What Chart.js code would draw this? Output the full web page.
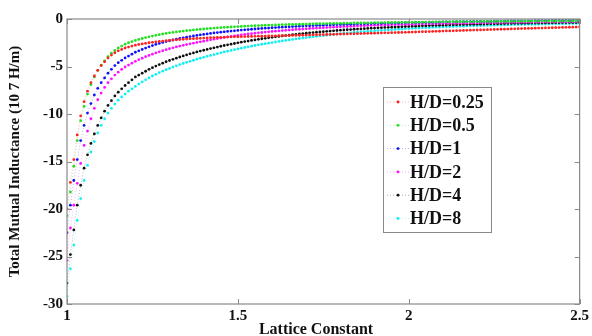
<!DOCTYPE html>
<html>
<head>
<meta charset="utf-8">
<script src="https://cdn.jsdelivr.net/npm/chart.js@4.4.1/dist/chart.umd.min.js"></script>
<style>
  html, body { margin: 0; padding: 0; background: #fff; }
  #wrap { width: 592px; height: 336px; position: relative; }
</style>
</head>
<body>
<div id="wrap"><canvas id="chart-mutuelle"></canvas></div>
<script>
/* ── Abscisses : constante de réseau ───────────────────────── */
const LATTICE = [
  1.00, 1.01, 1.02, 1.03, 1.04, 1.05, 1.06, 1.07, 1.08, 1.09,
  1.10, 1.11, 1.12, 1.13, 1.14, 1.15, 1.16, 1.17, 1.18, 1.19,
  1.20, 1.21, 1.22, 1.23, 1.24, 1.25, 1.26, 1.27, 1.28, 1.29,
  1.30, 1.31, 1.32, 1.33, 1.34, 1.35, 1.36, 1.37, 1.38, 1.39,
  1.40, 1.41, 1.42, 1.43, 1.44, 1.45, 1.46, 1.47, 1.48, 1.49,
  1.50, 1.51, 1.52, 1.53, 1.54, 1.55, 1.56, 1.57, 1.58, 1.59,
  1.60, 1.61, 1.62, 1.63, 1.64, 1.65, 1.66, 1.67, 1.68, 1.69,
  1.70, 1.71, 1.72, 1.73, 1.74, 1.75, 1.76, 1.77, 1.78, 1.79,
  1.80, 1.81, 1.82, 1.83, 1.84, 1.85, 1.86, 1.87, 1.88, 1.89,
  1.90, 1.91, 1.92, 1.93, 1.94, 1.95, 1.96, 1.97, 1.98, 1.99,
  2.00, 2.01, 2.02, 2.03, 2.04, 2.05, 2.06, 2.07, 2.08, 2.09,
  2.10, 2.11, 2.12, 2.13, 2.14, 2.15, 2.16, 2.17, 2.18, 2.19,
  2.20, 2.21, 2.22, 2.23, 2.24, 2.25, 2.26, 2.27, 2.28, 2.29,
  2.30, 2.31, 2.32, 2.33, 2.34, 2.35, 2.36, 2.37, 2.38, 2.39,
  2.40, 2.41, 2.42, 2.43, 2.44, 2.45, 2.46, 2.47, 2.48, 2.49,
  2.50,
];

/* ── Séries (10^-7 H/m), une par rapport H/D ───────────────── */
const HD_025 = [
  -20.0, -17.2, -14.8, -12.2, -10.2, -8.7, -7.6, -6.7, -6.0, -5.4,
  -4.9, -4.5, -4.1, -3.8, -3.55, -3.35, -3.2, -3.05, -2.95, -2.85,
  -2.75, -2.68, -2.62, -2.56, -2.5, -2.45, -2.4, -2.36, -2.32, -2.28,
  -2.25, -2.22, -2.19, -2.16, -2.13, -2.11, -2.09, -2.07, -2.05, -2.03,
  -2.01, -1.99, -1.97, -1.96, -1.94, -1.93, -1.91, -1.9, -1.89, -1.88,
  -1.87, -1.86, -1.85, -1.84, -1.83, -1.82, -1.81, -1.81, -1.8, -1.79,
  -1.78, -1.77, -1.76, -1.75, -1.75, -1.74, -1.73, -1.72, -1.71, -1.7,
  -1.69, -1.68, -1.67, -1.66, -1.65, -1.64, -1.63, -1.62, -1.61, -1.6,
  -1.59, -1.58, -1.57, -1.56, -1.55, -1.54, -1.53, -1.52, -1.51, -1.5,
  -1.49, -1.48, -1.47, -1.46, -1.45, -1.44, -1.43, -1.42, -1.41, -1.4,
  -1.39, -1.38, -1.37, -1.35, -1.34, -1.33, -1.32, -1.31, -1.3, -1.29,
  -1.27, -1.26, -1.25, -1.24, -1.23, -1.22, -1.2, -1.19, -1.18, -1.17,
  -1.16, -1.15, -1.14, -1.12, -1.11, -1.1, -1.09, -1.08, -1.07, -1.06,
  -1.04, -1.03, -1.02, -1.01, -1.0, -0.99, -0.98, -0.97, -0.96, -0.95,
  -0.94, -0.93, -0.92, -0.91, -0.9, -0.89, -0.88, -0.87, -0.86, -0.85,
  -0.84,
];
const HD_05 = [
  -20.7, -18.2, -15.5, -12.8, -10.7, -9.2, -7.9, -6.9, -6.1, -5.4,
  -4.85, -4.4, -3.95, -3.6, -3.3, -3.05, -2.85, -2.65, -2.5, -2.38,
  -2.26, -2.15, -2.05, -1.96, -1.88, -1.8, -1.72, -1.65, -1.58, -1.52,
  -1.46, -1.41, -1.36, -1.31, -1.27, -1.23, -1.19, -1.15, -1.11, -1.08,
  -1.05, -1.02, -0.99, -0.96, -0.93, -0.91, -0.88, -0.86, -0.84, -0.82,
  -0.8, -0.78, -0.76, -0.74, -0.72, -0.71, -0.69, -0.68, -0.66, -0.65,
  -0.64, -0.62, -0.61, -0.6, -0.59, -0.58, -0.57, -0.56, -0.55, -0.54,
  -0.53, -0.52, -0.51, -0.5, -0.49, -0.49, -0.48, -0.47, -0.46, -0.46,
  -0.45, -0.44, -0.44, -0.43, -0.42, -0.42, -0.41, -0.41, -0.4, -0.4,
  -0.39, -0.39, -0.38, -0.38, -0.37, -0.37, -0.36, -0.36, -0.35, -0.35,
  -0.34, -0.34, -0.34, -0.33, -0.33, -0.32, -0.32, -0.32, -0.31, -0.31,
  -0.3, -0.3, -0.3, -0.29, -0.29, -0.29, -0.28, -0.28, -0.28, -0.27,
  -0.27, -0.27, -0.26, -0.26, -0.26, -0.26, -0.25, -0.25, -0.25, -0.24,
  -0.24, -0.24, -0.24, -0.23, -0.23, -0.23, -0.23, -0.22, -0.22, -0.22,
  -0.22, -0.21, -0.21, -0.21, -0.21, -0.2, -0.2, -0.2, -0.2, -0.2,
  -0.19,
];
const HD_1 = [
  -22.5, -19.6, -17.0, -14.8, -12.8, -11.2, -9.9, -8.9, -8.0, -7.3,
  -6.7, -6.2, -5.7, -5.3, -4.9, -4.6, -4.35, -4.1, -3.9, -3.7,
  -3.5, -3.35, -3.2, -3.06, -2.93, -2.8, -2.68, -2.57, -2.47, -2.38,
  -2.29, -2.21, -2.13, -2.05, -1.98, -1.91, -1.85, -1.79, -1.73, -1.67,
  -1.62, -1.57, -1.52, -1.47, -1.43, -1.39, -1.35, -1.31, -1.27, -1.24,
  -1.2, -1.17, -1.14, -1.11, -1.08, -1.05, -1.02, -0.99, -0.97, -0.95,
  -0.92, -0.9, -0.88, -0.86, -0.84, -0.82, -0.8, -0.78, -0.76, -0.74,
  -0.72, -0.71, -0.69, -0.68, -0.66, -0.65, -0.63, -0.62, -0.61, -0.59,
  -0.58, -0.57, -0.56, -0.55, -0.54, -0.52, -0.51, -0.5, -0.49, -0.48,
  -0.47, -0.46, -0.45, -0.44, -0.43, -0.43, -0.42, -0.41, -0.4, -0.39,
  -0.38, -0.38, -0.37, -0.36, -0.35, -0.35, -0.34, -0.33, -0.33, -0.32,
  -0.31, -0.31, -0.3, -0.3, -0.29, -0.28, -0.28, -0.27, -0.27, -0.26,
  -0.26, -0.25, -0.25, -0.24, -0.24, -0.23, -0.23, -0.22, -0.22, -0.21,
  -0.21, -0.21, -0.2, -0.2, -0.19, -0.19, -0.19, -0.18, -0.18, -0.17,
  -0.17, -0.17, -0.16, -0.16, -0.16, -0.15, -0.15, -0.15, -0.14, -0.14,
  -0.14,
];
const HD_2 = [
  -25.4, -22.0, -19.6, -17.3, -15.2, -13.3, -11.8, -10.5, -9.4, -8.5,
  -7.8, -7.2, -6.7, -6.3, -5.9, -5.6, -5.3, -5.05, -4.85, -4.65,
  -4.45, -4.28, -4.12, -3.97, -3.83, -3.7, -3.57, -3.45, -3.34, -3.23,
  -3.13, -3.03, -2.94, -2.85, -2.77, -2.69, -2.61, -2.54, -2.47, -2.4,
  -2.33, -2.26, -2.19, -2.12, -2.06, -2.0, -1.94, -1.88, -1.83, -1.77,
  -1.72, -1.67, -1.62, -1.58, -1.54, -1.5, -1.46, -1.42, -1.38, -1.35,
  -1.31, -1.28, -1.25, -1.22, -1.19, -1.16, -1.13, -1.1, -1.08, -1.05,
  -1.03, -1.0, -0.98, -0.96, -0.94, -0.92, -0.9, -0.88, -0.86, -0.84,
  -0.82, -0.8, -0.79, -0.77, -0.75, -0.74, -0.72, -0.71, -0.69, -0.68,
  -0.67, -0.65, -0.64, -0.63, -0.62, -0.6, -0.59, -0.58, -0.57, -0.56,
  -0.55, -0.54, -0.53, -0.52, -0.51, -0.5, -0.5, -0.49, -0.48, -0.47,
  -0.46, -0.46, -0.45, -0.44, -0.44, -0.43, -0.42, -0.42, -0.41, -0.41,
  -0.4, -0.4, -0.39, -0.38, -0.38, -0.37, -0.37, -0.36, -0.36, -0.35,
  -0.35, -0.35, -0.34, -0.34, -0.33, -0.33, -0.32, -0.32, -0.32, -0.31,
  -0.31, -0.31, -0.3, -0.3, -0.3, -0.29, -0.29, -0.29, -0.28, -0.28,
  -0.28,
];
const HD_4 = [
  -27.8, -24.8, -22.2, -19.6, -17.5, -15.7, -14.3, -13.1, -12.1, -11.2,
  -10.4, -9.7, -9.1, -8.6, -8.1, -7.7, -7.35, -7.0, -6.7, -6.4,
  -6.1, -5.9, -5.7, -5.5, -5.3, -5.12, -4.95, -4.8, -4.65, -4.5,
  -4.37, -4.24, -4.12, -4.0, -3.89, -3.78, -3.67, -3.57, -3.47, -3.38,
  -3.29, -3.2, -3.11, -3.03, -2.95, -2.87, -2.79, -2.72, -2.65, -2.58,
  -2.51, -2.44, -2.38, -2.32, -2.26, -2.2, -2.14, -2.08, -2.03, -1.98,
  -1.93, -1.88, -1.83, -1.78, -1.74, -1.7, -1.65, -1.61, -1.57, -1.53,
  -1.5, -1.46, -1.43, -1.39, -1.36, -1.33, -1.3, -1.27, -1.24, -1.21,
  -1.18, -1.16, -1.13, -1.11, -1.08, -1.06, -1.04, -1.02, -0.99, -0.97,
  -0.95, -0.93, -0.91, -0.89, -0.88, -0.86, -0.84, -0.83, -0.81, -0.79,
  -0.78, -0.76, -0.75, -0.73, -0.72, -0.71, -0.69, -0.68, -0.67, -0.66,
  -0.65, -0.63, -0.62, -0.61, -0.6, -0.59, -0.58, -0.57, -0.56, -0.55,
  -0.54, -0.54, -0.53, -0.52, -0.51, -0.5, -0.5, -0.49, -0.48, -0.47,
  -0.47, -0.46, -0.45, -0.45, -0.44, -0.44, -0.43, -0.42, -0.42, -0.41,
  -0.41, -0.4, -0.4, -0.39, -0.39, -0.38, -0.38, -0.37, -0.37, -0.37,
  -0.36,
];
const HD_8 = [
  -29.2, -26.3, -23.8, -21.2, -18.9, -17.0, -15.4, -14.0, -12.9, -12.0,
  -11.2, -10.5, -9.9, -9.4, -8.95, -8.55, -8.2, -7.9, -7.6, -7.35,
  -7.1, -6.85, -6.62, -6.4, -6.2, -6.0, -5.82, -5.65, -5.49, -5.34,
  -5.2, -5.06, -4.93, -4.8, -4.68, -4.56, -4.45, -4.34, -4.23, -4.13,
  -4.03, -3.93, -3.83, -3.74, -3.65, -3.56, -3.47, -3.39, -3.31, -3.23,
  -3.15, -3.07, -3.0, -2.93, -2.86, -2.79, -2.72, -2.66, -2.6, -2.54,
  -2.48, -2.42, -2.36, -2.31, -2.25, -2.2, -2.15, -2.1, -2.05, -2.0,
  -1.95, -1.91, -1.86, -1.82, -1.78, -1.74, -1.7, -1.66, -1.62, -1.58,
  -1.55, -1.51, -1.48, -1.45, -1.42, -1.39, -1.36, -1.33, -1.3, -1.27,
  -1.24, -1.22, -1.19, -1.17, -1.14, -1.12, -1.1, -1.07, -1.05, -1.03,
  -1.01, -0.99, -0.97, -0.95, -0.93, -0.91, -0.9, -0.88, -0.86, -0.85,
  -0.83, -0.82, -0.8, -0.79, -0.77, -0.76, -0.75, -0.73, -0.72, -0.71,
  -0.7, -0.69, -0.68, -0.67, -0.66, -0.65, -0.64, -0.63, -0.62, -0.61,
  -0.6, -0.59, -0.58, -0.58, -0.57, -0.56, -0.55, -0.55, -0.54, -0.53,
  -0.53, -0.52, -0.51, -0.51, -0.5, -0.5, -0.49, -0.48, -0.48, -0.47,
  -0.47,
];

const SERIES_LABELS = ['H/D=0.25', 'H/D=0.5', 'H/D=1', 'H/D=2', 'H/D=4', 'H/D=8'];
const SERIES_VALUES = [HD_025, HD_05, HD_1, HD_2, HD_4, HD_8];
const SERIES_COLORS = ['#ff2020', '#20e020', '#1010ff', '#ff10ff', '#101010', '#10f0f0'];

const X_TICKS = [1, 1.5, 2, 2.5];
const Y_TICKS = [0, -5, -10, -15, -20, -25, -30];

const SERIF = '"Liberation Serif", "Times New Roman", serif';

function hexAlpha(hex, a) {
  const n = parseInt(hex.slice(1), 16);
  return `rgba(${n >> 16},${(n >> 8) & 255},${n & 255},${a})`;
}

/* ── Cadre + graduations intérieures (style MATLAB) ────────── */
const cadrePlugin = {
  id: 'cadre',
  afterDatasetsDraw(chart) {
    const { ctx, chartArea: a, scales } = chart;
    ctx.save();
    ctx.strokeStyle = '#8a8a8a';
    ctx.lineWidth = 1.2;
    ctx.strokeRect(a.left, a.top, a.right - a.left, a.bottom - a.top);
    ctx.lineWidth = 1;
    ctx.beginPath();
    X_TICKS.forEach(v => {
      const px = Math.round(scales.x.getPixelForValue(v)) + 0.5;
      ctx.moveTo(px, a.bottom); ctx.lineTo(px, a.bottom - 5);
      ctx.moveTo(px, a.top);    ctx.lineTo(px, a.top + 5);
    });
    Y_TICKS.forEach(v => {
      const py = Math.round(scales.y.getPixelForValue(v)) + 0.5;
      ctx.moveTo(a.left, py);  ctx.lineTo(a.left + 5, py);
      ctx.moveTo(a.right, py); ctx.lineTo(a.right - 5, py);
    });
    ctx.stroke();
    ctx.restore();
  },
  /* Légende encadrée + titre de l'axe x (décalé comme l'original) */
  afterDraw(chart) {
    const { ctx } = chart;
    const bx = 383, by = 87, bw = 108, bh = 145, pas = 23.3;
    ctx.save();
    ctx.fillStyle = '#fff';
    ctx.fillRect(bx, by, bw, bh);
    ctx.strokeStyle = '#8a8a8a';
    ctx.lineWidth = 1;
    ctx.strokeRect(bx + 0.5, by + 0.5, bw, bh);
    ctx.font = `bold 18px ${SERIF}`;
    ctx.textBaseline = 'middle';
    chart.data.datasets.forEach((ds, i) => {
      const y = by + 15 + i * pas;
      ctx.strokeStyle = hexAlpha(ds.pointBackgroundColor, 0.35);
      ctx.setLineDash([1, 2]);
      ctx.beginPath();
      ctx.moveTo(bx + 4, y); ctx.lineTo(bx + 27, y);
      ctx.stroke();
      ctx.setLineDash([]);
      ctx.fillStyle = ds.pointBackgroundColor;
      ctx.beginPath();
      ctx.arc(bx + 15, y, 1.4, 0, Math.PI * 2);
      ctx.fill();
      ctx.fillStyle = '#111';
      ctx.fillText(ds.label, bx + 27, y + 1);
    });

    ctx.font = `bold 16px ${SERIF}`;
    ctx.textAlign = 'center';
    ctx.textBaseline = 'middle';
    ctx.fillText('Lattice Constant', 316, 330);
    ctx.restore();
  },
};

new Chart(document.getElementById('chart-mutuelle').getContext('2d'), {
  type: 'line',
  data: {
    datasets: SERIES_LABELS.map((label, i) => ({
      label,
      data: LATTICE.map((x, k) => ({ x, y: SERIES_VALUES[i][k] })),
      borderColor: hexAlpha(SERIES_COLORS[i], 0.3),
      borderWidth: 1,
      borderDash: [1, 2],
      pointRadius: 1.4,
      pointBorderWidth: 0,
      pointBackgroundColor: SERIES_COLORS[i],
      tension: 0,
    })),
  },
  options: {
    responsive: true,
    maintainAspectRatio: false,
    animation: false,
    layout: { padding: { top: 19, right: 9, left: 0, bottom: 0 } },
    plugins: { legend: { display: false }, tooltip: { enabled: false } },
    scales: {
      x: {
        type: 'linear',
        min: 1, max: 2.5,
        afterFit: s => { s.height = 32; },
        afterBuildTicks: s => { s.ticks = X_TICKS.map(v => ({ value: v })); },
        grid: { display: false, drawTicks: false },
        border: { display: false },
        ticks: {
          color: '#111', padding: 3,
          font: { family: SERIF, size: 15, weight: 'bold' },
          callback: v => String(v),
        },
      },
      y: {
        min: -30, max: 0,
        afterFit: s => { s.width = 67; },
        afterBuildTicks: s => { s.ticks = Y_TICKS.map(v => ({ value: v })); },
        grid: { display: false, drawTicks: false },
        border: { display: false },
        ticks: {
          color: '#111', padding: 4,
          font: { family: SERIF, size: 15, weight: 'bold' },
        },
        title: {
          display: true, text: 'Total Mutual Inductance (10 7 H/m)', color: '#111',
          font: { family: SERIF, size: 15, weight: 'bold' },
          padding: { top: 6, bottom: 0 },
        },
      },
    },
  },
  plugins: [cadrePlugin],
});
</script>
</body>
</html>
